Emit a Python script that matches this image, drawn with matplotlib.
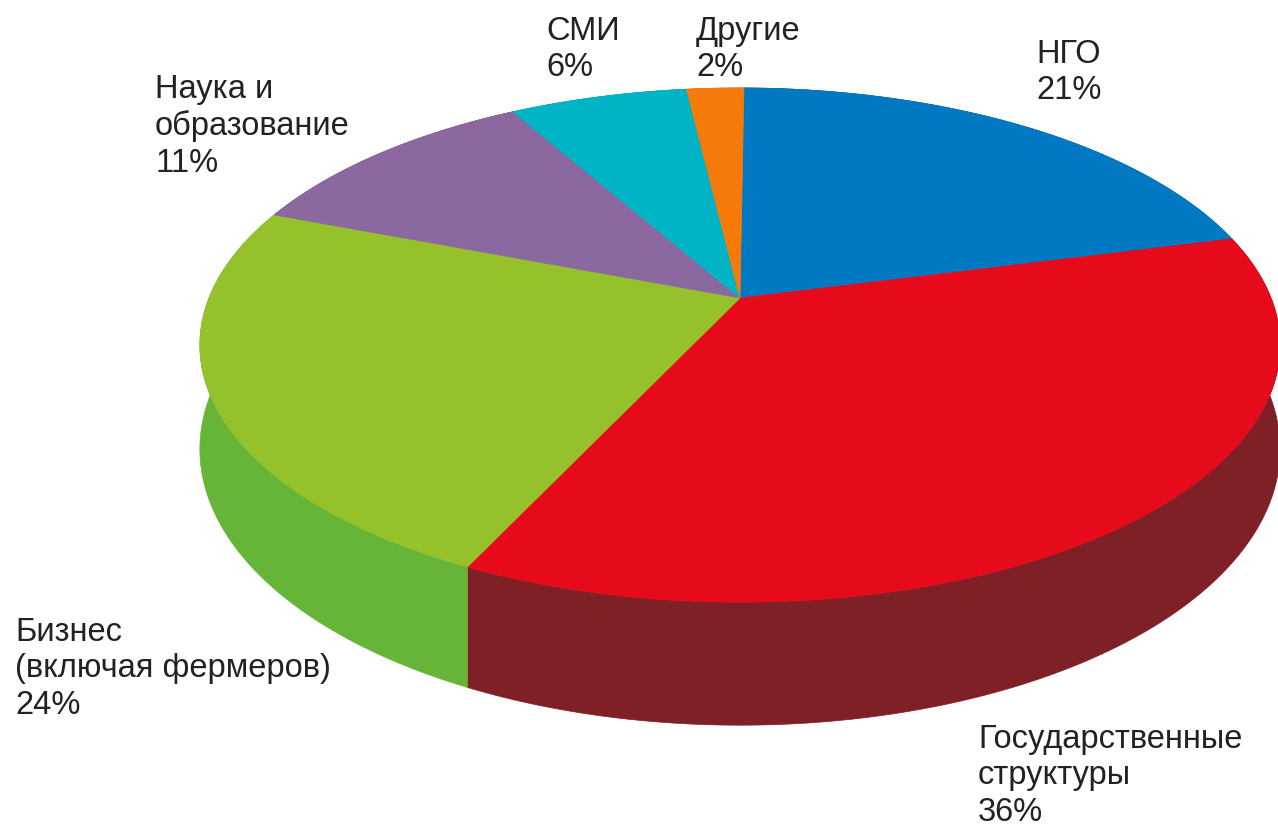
import numpy as np
import matplotlib
matplotlib.use("Agg")
import matplotlib.pyplot as plt

plt.rcParams["font.family"] = ["Liberation Sans", "DejaVu Sans"]

# Data, clockwise from the top
labels = ["НГО", "Государственные\nструктуры", "Бизнес\n(включая фермеров)",
          "Наука и\nобразование", "СМИ", "Другие"]
percent_labels = ["21%", "36%", "24%", "11%", "6%", "2%"]
# slice sizes as measured on the picture, the printed labels are rounded
values = [20.86, 36.05, 23.75, 10.95, 6.35, 2.04]
top_colors = ["#0079C2", "#E60A1A", "#95C12B", "#8B68A0", "#00B3C5", "#F57A0A"]
wall_colors = ["#005A91", "#7F1F26", "#66B539", "#6A4E7A", "#008A98", "#B85B08"]
label_pos = [(1036, 39), (978, 724), (15, 617), (155, 74), (546, 16), (696, 16)]

# Perspective of the tilted pie, in pixels
cx, cy = 740, 298
rx, ry = 531, 248.5
tilt = 0.183
depth = 100.5
start = np.deg2rad(0.5)


def rim(theta):
    w = 1 + tilt * np.cos(theta)
    return cx + rx * np.sin(theta) / w, cy - ry * np.cos(theta) / w, depth / w


fig = plt.figure(figsize=(12.78, 8.26), dpi=100)
ax = fig.add_axes([0, 0, 1, 1])
ax.set_xlim(0, 1278)
ax.set_ylim(826, 0)
ax.axis("off")

edges = start + np.cumsum([0] + values) / sum(values) * 2 * np.pi

# Side wall first, the top covers its hidden part
for i in range(len(values)):
    t = np.linspace(edges[i], edges[i + 1], 200)
    x, y, d = rim(t)
    ax.fill(np.r_[x, x[::-1]], np.r_[y, (y + d)[::-1]],
            color=wall_colors[i], lw=0.5, zorder=1)

for i in range(len(values)):
    t = np.linspace(edges[i], edges[i + 1], 200)
    x, y, d = rim(t)
    ax.fill(np.r_[cx, x], np.r_[cy, y], color=top_colors[i], lw=0.5, zorder=2)

for lab, pct, (lx, ly) in zip(labels, percent_labels, label_pos):
    ax.text(lx, ly, f"{lab}\n{pct}", fontsize=23.5, color="#222222",
            va="top", ha="left", linespacing=1.22, zorder=3)

fig.savefig("out.png", dpi=100)
